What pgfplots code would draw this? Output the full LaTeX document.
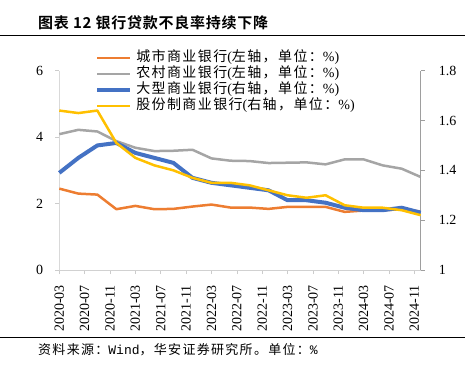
\documentclass[border=0pt]{standalone}
\usepackage{pgfplots}
\pgfplotsset{compat=1.18}
\usepackage{fontspec}
\setmainfont{Liberation Serif}
\newfontfamily\cjk[LetterSpace=10]{Noto Sans CJK SC}
\newfontfamily\cjkt[LetterSpace=5]{Noto Sans CJK SC Bold}
\newfontfamily\mono{Liberation Mono}
\definecolor{cOrange}{HTML}{ED7D31}
\definecolor{cGray}{HTML}{A5A5A5}
\definecolor{cBlue}{HTML}{4472C4}
\definecolor{cYellow}{HTML}{FFC000}

\pgfplotstableread{
m v
0 2.45
3 2.30
6 2.27
9 1.83
12 1.93
15 1.83
18 1.84
21 1.91
24 1.97
27 1.88
30 1.88
33 1.84
36 1.90
39 1.90
42 1.90
45 1.75
48 1.79
51 1.80
54 1.83
57 1.76
}\cityT
\pgfplotstableread{
m v
0 4.09
3 4.22
6 4.17
9 3.88
12 3.68
15 3.58
18 3.59
21 3.62
24 3.36
27 3.29
30 3.28
33 3.22
36 3.23
39 3.24
42 3.18
45 3.33
48 3.33
51 3.15
54 3.05
57 2.80
}\ruralT
\pgfplotstableread{
m v
0 1.39
3 1.45
6 1.50
9 1.51
12 1.47
15 1.45
18 1.43
21 1.37
24 1.35
27 1.34
30 1.33
33 1.32
36 1.28
39 1.28
42 1.27
45 1.25
48 1.24
51 1.24
54 1.25
57 1.23
}\largeT
\pgfplotstableread{
m v
0 1.64
3 1.63
6 1.64
9 1.51
12 1.45
15 1.42
18 1.40
21 1.37
24 1.35
27 1.35
30 1.34
33 1.32
36 1.30
39 1.29
42 1.30
45 1.26
48 1.25
51 1.25
54 1.24
57 1.22
}\jointT

\begin{document}
\begin{tikzpicture}[x=1pt,y=1pt]
\path (0,0) rectangle (469,365);
\node[anchor=west, inner sep=0pt, font=\cjkt\fontsize{15}{18}\selectfont] at (38,342) {图表 12 银行贷款不良率持续下降};
\draw[line width=0.8pt] (0,330) -- (465,330);
\draw[line width=0.8pt] (0,28) -- (465,28);
\node[anchor=west, inner sep=0pt, font=\fontsize{13}{15}\selectfont] at (38,15) {{\cjk 资料来源：}{\mono Wind}{\cjk ，华安证券研究所。单位：}{\mono\%}};

\begin{axis}[
  at={(59.3pt,95pt)}, anchor=south west,
  scale only axis, width=361.4pt, height=199.3pt,
  xmin=0, xmax=57, ymin=0, ymax=6,
  axis x line*=bottom, axis y line*=left,
  axis line style={-},
  x axis line style={draw=black!18, line width=0.8pt},
  y axis line style={draw=black!15, line width=0.8pt},
  xtick={0,4,...,56},
  xticklabels={2020-03,2020-07,2020-11,2021-03,2021-07,2021-11,2022-03,2022-07,2022-11,2023-03,2023-07,2023-11,2024-03,2024-07,2024-11},
  xticklabel style={rotate=90, anchor=east, inner sep=0pt, font=\fontsize{14}{14}\selectfont},
  xticklabel shift=11pt,
  ytick={0,2,4,6},
  yticklabel style={anchor=east, inner sep=0pt, font=\fontsize{14}{14}\selectfont},
  yticklabel shift=12pt,
  tick align=outside, major tick length=4pt,
  tick style={draw=black!20, line width=0.6pt},
  /pgf/number format/assume math mode=true,
  clip=false,
]
\addplot[cGray, line width=2.5pt, line join=round] table[x=m,y=v] {\ruralT};
\addplot[cOrange, line width=2.5pt, line join=round] table[x=m,y=v] {\cityT};
\end{axis}

\begin{axis}[
  at={(59.3pt,95pt)}, anchor=south west,
  scale only axis, width=361.4pt, height=199.3pt,
  xmin=0, xmax=57, ymin=1, ymax=1.8,
  axis x line=none, axis y line*=right,
  axis line style={-},
  y axis line style={draw=black!38, line width=0.8pt},
  ytick={1,1.2,1.4,1.6,1.8},
  yticklabels={1,1.2,1.4,1.6,1.8},
  yticklabel style={anchor=west, inner sep=0pt, font=\fontsize{14}{14}\selectfont},
  yticklabel shift=14pt,
  tick align=outside, major tick length=4pt,
  tick style={draw=black!38, line width=0.6pt},
  clip=false,
  legend image code/.code={\draw[#1] (0pt,0pt) -- (33pt,0pt);},
  legend cell align=left,
  legend style={at={(0.099,1.104)}, anchor=north west, draw=none, fill=none,
    inner sep=0pt, row sep=0pt, column sep=4pt,
    font=\fontsize{14}{14}\selectfont,
    nodes={inner sep=0pt, text height=11pt, text depth=5pt}},
]
\addlegendimage{cOrange, line width=2.5pt}
\addlegendentry{{\cjk 城市商业银行}({\cjk 左轴，单位：}\%)}
\addlegendimage{cGray, line width=2.5pt}
\addlegendentry{{\cjk 农村商业银行}({\cjk 左轴，单位：}\%)}
\addplot[cBlue, line width=4pt, line join=round] table[x=m,y=v] {\largeT};
\addlegendentry{{\cjk 大型商业银行}({\cjk 右轴，单位：}\%)}
\addplot[cYellow, line width=2.5pt, line join=round] table[x=m,y=v] {\jointT};
\addlegendentry{{\cjk 股份制商业银行}({\cjk 右轴，单位：}\%)}
\end{axis}
\pgfresetboundingbox
\path (0,0) rectangle (469,365);
\end{tikzpicture}
\end{document}
